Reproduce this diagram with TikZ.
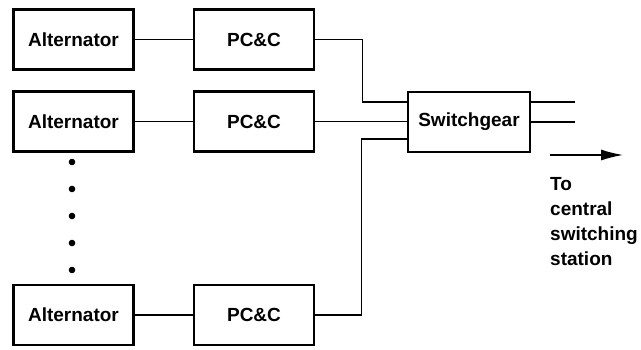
\documentclass[tikz,border=0pt]{standalone}
\usepackage{fontspec}
\setmainfont{Liberation Sans}
\usetikzlibrary{arrows.meta}

\begin{document}
\begin{tikzpicture}[x=1pt, y=1pt, font=\fontsize{19}{25}\selectfont\bfseries,
  unitbox/.style={draw, line width=2.6pt, minimum width=120pt, minimum height=60pt, inner sep=0pt},
  wire/.style={line width=1.4pt}] %generating set to switchgear
\useasboundingbox (0,0) rectangle (641,350);
\node[unitbox] (alt1) at (73.5,310.5) {Alternator};
\node[unitbox] (alt2) at (73.5,228.5) {Alternator};
\node[unitbox] (alt3) at (73.5,35) {Alternator};
\node[unitbox] (pc1) at (254,310.5) {PC\&C};
\node[unitbox] (pc2) at (254,228.5) {PC\&C};
\node[unitbox] (pc3) at (254,35) {PC\&C};
\node[unitbox, minimum width=122pt] (sw) at (469,228) {Switchgear};
\foreach \y in {162,189,216,243,270}
  \fill (72,350-\y) circle (3.3pt);
\draw[wire] (alt1) -- (pc1);
\draw[wire] (alt2) -- (pc2);
\draw[wire] (alt3) -- (pc3);
\draw[wire] (pc1.east) -- ++(47,0) |- ([yshift=20pt]sw.west);
\draw[wire] (pc2.east) -- (pc2.east -| sw.west);
\draw[wire] (pc3.east) -- ++(46,0) |- ([yshift=-17pt]sw.west);
\coordinate (out1) at (575,248);
\coordinate (out2) at (575,228);
\draw[wire] (sw.east |- out1) -- (out1);
\draw[wire] (sw.east |- out2) -- (out2);
\coordinate (arrS) at (550,195);
\coordinate (arrE) at (623,195);
\draw[wire, -{Latex[length=22pt, width=11pt]}] (arrS) -- (arrE);
\node[anchor=north west, align=left, inner sep=0pt] (dest) at (550,173) {To\\central\\switching\\station};
\end{tikzpicture}
\end{document}
